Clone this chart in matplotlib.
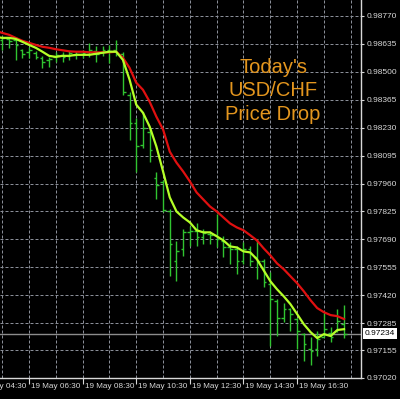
import pandas as pd
import matplotlib
matplotlib.use("Agg")
import matplotlib.pyplot as plt
import matplotlib.dates as mdates

# USD/CHF M15 bars, 19 May (first bar sits just left of the visible area)
open_ = [0.98679, 0.98654, 0.98659, 0.98654, 0.98606, 0.98597, 0.98592, 0.98568, 0.98558, 0.98572,
         0.98582, 0.98577, 0.98582, 0.98587, 0.98597, 0.98601, 0.98597, 0.98606, 0.98606, 0.98587,
         0.98389, 0.98254, 0.98148, 0.98211, 0.97989, 0.97965, 0.97825, 0.97584, 0.97642, 0.97724,
         0.97729, 0.97700, 0.97714, 0.97709, 0.97681, 0.97651, 0.97642, 0.97584, 0.97642, 0.97603,
         0.97584, 0.97473, 0.97391, 0.97309, 0.97353, 0.97305, 0.97232, 0.97160, 0.97160, 0.97218,
         0.97237, 0.97247, 0.97280]
high = [0.98688, 0.98674, 0.98664, 0.98669, 0.98611, 0.98621, 0.98601, 0.98577, 0.98572, 0.98597,
        0.98597, 0.98601, 0.98601, 0.98606, 0.98640, 0.98625, 0.98625, 0.98630, 0.98654, 0.98597,
        0.98404, 0.98278, 0.98307, 0.98230, 0.98018, 0.97979, 0.97835, 0.97681, 0.97738, 0.97753,
        0.97767, 0.97738, 0.97729, 0.97811, 0.97705, 0.97676, 0.97656, 0.97676, 0.97656, 0.97690,
        0.97594, 0.97531, 0.97401, 0.97382, 0.97358, 0.97309, 0.97237, 0.97218, 0.97247, 0.97333,
        0.97266, 0.97353, 0.97372]
low = [0.98645, 0.98606, 0.98616, 0.98558, 0.98568, 0.98568, 0.98563, 0.98519, 0.98524, 0.98548,
       0.98548, 0.98558, 0.98563, 0.98568, 0.98572, 0.98548, 0.98577, 0.98544, 0.98577, 0.98389,
       0.98172, 0.98018, 0.98134, 0.98066, 0.97883, 0.97820, 0.97512, 0.97488, 0.97608, 0.97656,
       0.97656, 0.97666, 0.97666, 0.97651, 0.97603, 0.97570, 0.97521, 0.97570, 0.97560, 0.97497,
       0.97459, 0.97174, 0.97223, 0.97290, 0.97247, 0.97160, 0.97102, 0.97083, 0.97126, 0.97218,
       0.97194, 0.97242, 0.97213]
close = [0.98664, 0.98664, 0.98650, 0.98630, 0.98587, 0.98606, 0.98572, 0.98548, 0.98563, 0.98582,
         0.98572, 0.98592, 0.98587, 0.98592, 0.98606, 0.98587, 0.98606, 0.98601, 0.98587, 0.98404,
         0.98254, 0.98139, 0.98230, 0.98124, 0.97955, 0.97830, 0.97666, 0.97632, 0.97724, 0.97729,
         0.97700, 0.97719, 0.97709, 0.97690, 0.97651, 0.97642, 0.97584, 0.97642, 0.97584, 0.97584,
         0.97483, 0.97401, 0.97309, 0.97353, 0.97329, 0.97247, 0.97184, 0.97150, 0.97208, 0.97256,
         0.97218, 0.97295, 0.97234]
ma_fast = [0.98669, 0.98664, 0.98664, 0.98659, 0.98645, 0.98630, 0.98616, 0.98597, 0.98577, 0.98572,
           0.98577, 0.98577, 0.98582, 0.98582, 0.98582, 0.98587, 0.98592, 0.98597, 0.98597, 0.98558,
           0.98462, 0.98341, 0.98302, 0.98235, 0.98139, 0.98018, 0.97893, 0.97825, 0.97796, 0.97772,
           0.97734, 0.97724, 0.97724, 0.97705, 0.97685, 0.97656, 0.97651, 0.97632, 0.97627, 0.97594,
           0.97541, 0.97488, 0.97449, 0.97415, 0.97377, 0.97329, 0.97280, 0.97242, 0.97213, 0.97232,
           0.97223, 0.97252, 0.97256]
ma_slow = [0.98698, 0.98688, 0.98679, 0.98664, 0.98650, 0.98640, 0.98630, 0.98621, 0.98616, 0.98609,
           0.98604, 0.98599, 0.98597, 0.98597, 0.98594, 0.98594, 0.98594, 0.98594, 0.98597, 0.98568,
           0.98519, 0.98447, 0.98413, 0.98355, 0.98283, 0.98221, 0.98114, 0.98061, 0.98018, 0.97970,
           0.97917, 0.97883, 0.97849, 0.97825, 0.97796, 0.97767, 0.97748, 0.97734, 0.97710, 0.97685,
           0.97647, 0.97613, 0.97574, 0.97546, 0.97512, 0.97478, 0.97439, 0.97396, 0.97358, 0.97338,
           0.97324, 0.97319, 0.97305]
times = pd.date_range("2023-05-19 05:15", periods=len(close), freq="15min")

price_ticks = [0.97020, 0.97155, 0.97285, 0.97420, 0.97555, 0.97690, 0.97825,
               0.97960, 0.98095, 0.98230, 0.98365, 0.98500, 0.98635, 0.98770]
label_times = pd.date_range("2023-05-19 04:30", "2023-05-19 16:30", freq="2h")
grid_times = pd.date_range("2023-05-19 04:30", "2023-05-19 18:30", freq="1h")
last_price = 0.97234
note = "Today's\nUSD/CHF\nPrice Drop"

axis_font = ["Liberation Sans", "DejaVu Sans"]
grid_col = "#8a8e98"
fg = "#d8d8d8"

fig = plt.figure(figsize=(4.0, 3.99), dpi=100, facecolor="black")
ax = fig.add_axes([0, 21 / 399, 361 / 400, 378 / 399], facecolor="black")

# grid
for t in grid_times:
    ax.axvline(t, color=grid_col, lw=0.72, ls=(0, (3, 2)), zorder=0)
for p in price_ticks:
    ax.axhline(p, color=grid_col, lw=0.72, ls=(0, (3, 2)), zorder=0)

# current price line
ax.axhline(last_price, color="#8c8c8c", lw=1.0, zorder=1)

# OHLC bars
x = mdates.date2num(times)
half = 6 / 1440
bar_col = "#30c430"
ax.vlines(x, low, high, color=bar_col, lw=1.0, zorder=2)
ax.hlines(open_, x - half, x, color=bar_col, lw=1.0, zorder=2)
ax.hlines(close, x, x + half, color=bar_col, lw=1.0, zorder=2)

# moving averages
ax.plot(x, ma_slow, color="#e01010", lw=1.6, zorder=3)
ax.plot(x, ma_fast, color="#b4ff28", lw=1.6, zorder=4)

ax.set_xlim(pd.Timestamp("2023-05-19 05:25"), pd.Timestamp("2023-05-19 18:53"))
ax.set_ylim(0.97020, 0.98847)

for s in ["top", "left"]:
    ax.spines[s].set_visible(False)
for s in ["right", "bottom"]:
    ax.spines[s].set_color(fg)
    ax.spines[s].set_linewidth(1.0)

ax.yaxis.tick_right()
ax.set_yticks(price_ticks)
ax.set_yticklabels(["%.5f" % p for p in price_ticks], family=axis_font, fontsize=6.0, color=fg)
ax.tick_params(axis="y", direction="out", length=2, width=0.8, color=fg, pad=2)

shown = [t for t in label_times if t >= pd.Timestamp("2023-05-19 05:25")]
ax.set_xticks(shown)
ax.set_xticklabels([])
ax.tick_params(axis="x", direction="out", length=4, width=0.8, color=fg)

for t in label_times:
    ax.annotate(t.strftime("%d %b %H:%M").lstrip("0"), xy=(t, 0),
                xycoords=("data", "axes fraction"), xytext=(2, -5),
                textcoords="offset pixels", ha="left", va="top",
                family=axis_font, fontsize=5.9, color=fg, annotation_clip=False)

ax.annotate("%.5f" % last_price, xy=(1, last_price), xycoords=("axes fraction", "data"),
            xytext=(4, 0), textcoords="offset pixels", ha="left", va="center",
            family=axis_font, fontsize=6.0, color="black", annotation_clip=False,
            bbox=dict(boxstyle="square,pad=0.25", fc="white", ec="none"))

fig.text(273 / 400, 1 - 91 / 399, note, ha="center", va="center", color="#e4961e",
         family=["Liberation Sans", "DejaVu Sans"], fontsize=14.5, linespacing=1.3)

plt.savefig("out.png", dpi=100, facecolor="black")
plt.close()
